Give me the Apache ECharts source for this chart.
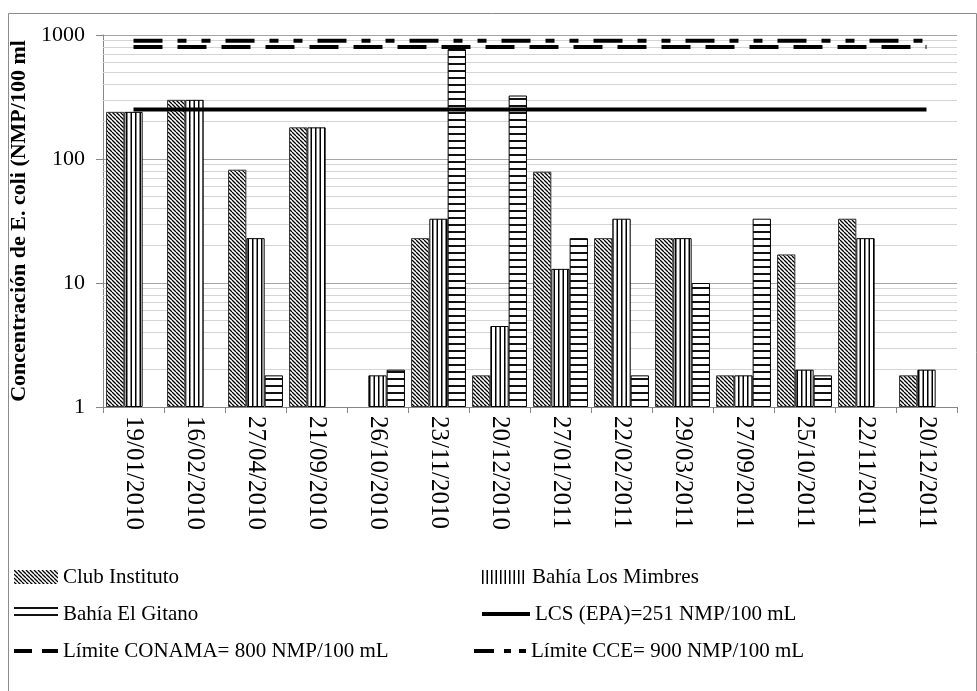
<!DOCTYPE html>
<html><head><meta charset="utf-8">
<script src="https://cdn.jsdelivr.net/npm/echarts@6/dist/echarts.min.js"></script>
<style>html,body{margin:0;padding:0;background:#fff}#c{width:977px;height:691px}</style>
</head><body><div id="c"></div>
<script>
// ---- data ----
const categories = ['19/01/2010','16/02/2010','27/04/2010','21/09/2010','26/10/2010','23/11/2010','20/12/2010','27/01/2011','22/02/2011','29/03/2011','27/09/2011','25/10/2011','22/11/2011','20/12/2011'];
const clubInstituto   = [240, 300, 82, 180, null, 23, 1.8, 79, 23, 23, 1.8, 17, 33, 1.8];
const bahiaLosMimbres = [240, 300, 23, 180, 1.8, 33, 4.5, 13, 33, 23, 1.8, 2, 23, 2];
const bahiaElGitano   = [null, null, 1.8, null, 2, 770, 325, 23, 1.8, 10, 33, 1.8, null, null];
const lcsEpa       = [251, 251, 251, 251, 251, 251, 251, 251, 251, 251, 251, 251, 251, 251];
const limiteConama = [800, 800, 800, 800, 800, 800, 800, 800, 800, 800, 800, 800, 800, 800];
const limiteCce    = [900, 900, 900, 900, 900, 900, 900, 900, 900, 900, 900, 900, 900, 900];
const minorGridValues = [2,3,4,5,6,7,8,9,20,30,40,50,60,70,80,90,200,300,400,500,600,700,800,900];
const seriesNames = ['Club Instituto','Bahía Los Mimbres','Bahía El Gitano','LCS (EPA)=251 NMP/100 mL','Límite CONAMA= 800 NMP/100 mL','Límite CCE= 900 NMP/100 mL'];
const yTitle = 'Concentración de E. coli (NMP/100 ml';

// ---- patterns ----
function tile(w, h, draw) {
  const c = document.createElement('canvas');
  c.width = w; c.height = h;
  const ctx = c.getContext('2d');
  ctx.fillStyle = '#fff'; ctx.fillRect(0, 0, w, h);
  draw(ctx);
  return { image: c, repeat: 'repeat' };
}
const diagPattern = tile(4, 4, ctx => {
  ctx.strokeStyle = '#000'; ctx.lineWidth = 1.3;
  ctx.beginPath();
  for (let i = -4; i <= 4; i += 4) { ctx.moveTo(i, 0); ctx.lineTo(i + 4, 4); }
  ctx.stroke();
});
const vertPattern = tile(9, 9, ctx => {
  ctx.fillStyle = '#000';
  ctx.fillRect(0, 0, 1.5, 9); ctx.fillRect(4.5, 0, 1.5, 9);
});
const horzPattern = tile(7, 7, ctx => {
  ctx.fillStyle = '#111';
  ctx.fillRect(0, 0, 7, 2);
});

const FONT = 'Liberation Serif, Times New Roman, serif';
const chart = echarts.init(document.getElementById('c'), null, { renderer: 'canvas' });

function legendAt(name, left, top, width, height, icon) {
  return {
    data: [{ name: name, icon: icon }], left: left, top: top, orient: 'horizontal',
    itemWidth: width, itemHeight: height, padding: 0, selectedMode: false, symbolKeepAspect: false,
    itemStyle: { borderWidth: 0 },
    textStyle: { fontFamily: FONT, fontSize: 21, color: '#000', lineHeight: 22 }
  };
}

const barBase = { type: 'bar', barGap: '0%', barCategoryGap: '10%', z: 3 };

chart.setOption({
  animation: false,
  backgroundColor: '#fff',
  grid: { left: 103, right: 20, top: 35, bottom: 284, containLabel: false },
  graphic: [{
    type: 'rect', silent: true, z: -1,
    shape: { x: 8.5, y: 13.5, width: 968, height: 690 },
    style: { fill: 'none', stroke: '#8c8c8c', lineWidth: 1 }
  }],
  legend: [
    legendAt(seriesNames[0], 14, 566, 44, 14, 'rect'),
    legendAt(seriesNames[1], 482, 566, 45, 14, 'rect'),
    legendAt(seriesNames[2], 14, 603, 44, 14, 'rect'),
    legendAt(seriesNames[3], 482, 603, 48, 4, 'rect'),
    legendAt(seriesNames[4], 14, 640, 44, 4, 'path://M0,0h18v4h-18zM28,0h16v4h-16z'),
    legendAt(seriesNames[5], 474, 640, 52, 4, 'path://M0,0h20v4h-20zM30,0h7v4h-7zM45,0h7v4h-7z')
  ],
  xAxis: {
    type: 'category', data: categories, boundaryGap: true,
    axisLine: { show: true, lineStyle: { color: '#868686', width: 1 } },
    axisTick: { show: true, length: 6, alignWithLabel: false, lineStyle: { color: '#868686' } },
    axisLabel: { rotate: -90, margin: 9, fontFamily: FONT, fontSize: 25, color: '#000', interval: 0 },
    splitLine: { show: false }
  },
  yAxis: {
    type: 'log', logBase: 10, min: 1, max: 1000,
    name: yTitle, nameLocation: 'middle', nameRotate: 90, nameGap: 66,
    nameTextStyle: { fontFamily: FONT, fontSize: 22, fontWeight: 'bold', color: '#000' },
    axisLine: { show: true, lineStyle: { color: '#868686', width: 1 } },
    axisTick: { show: true, length: 7, lineStyle: { color: '#868686' } },
    axisLabel: { margin: 18, fontFamily: FONT, fontSize: 22, color: '#000', formatter: v => String(v) },
    splitLine: { show: true, lineStyle: { color: '#a6a6a6', width: 1 } },
    minorTick: { show: false }, minorSplitLine: { show: false }
  },
  series: [
    Object.assign({}, barBase, { name: seriesNames[0], data: clubInstituto,
      itemStyle: { color: diagPattern, borderColor: '#333', borderWidth: 1 } }),
    Object.assign({}, barBase, { name: seriesNames[1], data: bahiaLosMimbres,
      itemStyle: { color: vertPattern, borderColor: '#000', borderWidth: 1 } }),
    Object.assign({}, barBase, { name: seriesNames[2], data: bahiaElGitano,
      itemStyle: { color: horzPattern, borderColor: '#000', borderWidth: 1 } }),
    { name: seriesNames[3], type: 'line', data: lcsEpa, symbol: 'none', z: 5,
      lineStyle: { color: '#000', width: 4, type: 'solid' }, itemStyle: { color: '#000' } },
    { name: seriesNames[4], type: 'line', data: limiteConama, symbol: 'none', z: 5,
      lineStyle: { color: '#000', width: 4, type: [29, 15] }, itemStyle: { color: '#000' } },
    { name: seriesNames[5], type: 'line', data: limiteCce, symbol: 'none', z: 5,
      lineStyle: { color: '#000', width: 4, type: [29, 15, 9, 15, 9, 15] }, itemStyle: { color: '#000' } },
    { name: 'minor-grid', type: 'line', data: [], z: 1, silent: true,
      markLine: { silent: true, symbol: ['none', 'none'], z: 1, animation: false,
        label: { show: false },
        lineStyle: { color: '#d4d4d4', width: 1, type: 'solid' },
        emphasis: { disabled: true },
        data: minorGridValues.map(v => ({ yAxis: v })) } }
  ]
});
</script>
</body></html>
